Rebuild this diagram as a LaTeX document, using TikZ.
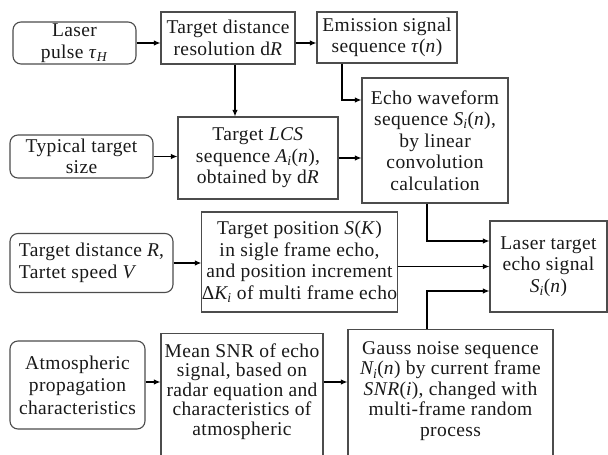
\documentclass[tikz,border=0pt]{standalone}
\usepackage{fontspec}
\setmainfont[LetterSpace=2]{Liberation Serif}
\usetikzlibrary{arrows.meta}
\tikzset{
  box/.style={draw=black!70, line width=1.1pt, inner sep=0pt, align=center, text=black!90,
    font=\fontsize{19.5}{21.5}\selectfont},
  rbox/.style={box, rounded corners=8pt},
  arr/.style={-{Latex[length=6.5pt,width=5.5pt]}, line width=1.1pt, black},
}
\begin{document}
\begin{tikzpicture}[x=1pt,y=-1pt]
\useasboundingbox (0,0) rectangle (608,455);
\clip (0,0) rectangle (608,455);
% left column (rounded)
\node[rbox, minimum width=123, minimum height=42] (laser) at (74.5,43) {Laser\\pulse \textit{τ}\textsubscript{\textit{H}}};
\node[rbox, minimum width=143, minimum height=43] (typ) at (81.5,156.5) {Typical target\\size};
\node[rbox, minimum width=163, minimum height=59, align=left] (tdist) at (91.5,263) {Target distance \textit{R},\\Tartet speed \textit{V}};
\node[rbox, minimum width=135, minimum height=88, font=\fontsize{19.5}{22.5}\selectfont] (atm) at (77.5,385) {Atmospheric\\propagation\\characteristics};
% middle
\node[box, minimum width=134, minimum height=52] (tdr) at (228,38) {Target distance\\resolution d\textit{R}};
\node[box, minimum width=160, minimum height=82] (lcs) at (258,158) {Target \textit{LCS}\\sequence \textit{A\textsubscript{i}}(\textit{n}),\\obtained by d\textit{R}};
\node[box, minimum width=195, minimum height=100] (tpos) at (299.5,262) {Target position \textit{S}(\textit{K})\\in sigle frame echo,\\and position increment\\Δ\textit{K\textsubscript{i}} of multi frame echo};
\node[box, anchor=north, font=\fontsize{19.5}{19.5}\selectfont] (snr) at (242,333)
  {\parbox[c][160pt][t]{162pt}{\centering\vspace*{10pt}Mean SNR of echo\\signal, based on\\radar equation and\\characteristics of\\atmospheric}};
% right
\node[box, minimum width=140, minimum height=51] (emis) at (387,37.5) {Emission signal\\sequence \textit{τ}(\textit{n})};
\node[box, minimum width=146, minimum height=125] (echo) at (435,140.5) {Echo waveform\\sequence \textit{S\textsubscript{i}}(\textit{n}),\\by linear\\convolution\\calculation};
\node[box, minimum width=117, minimum height=91] (lte) at (548.5,266.5) {Laser target\\echo signal\\\textit{S\textsubscript{i}}(\textit{n})};
\node[box, anchor=north, font=\fontsize{19.5}{20.5}\selectfont] (gauss) at (450.5,329)
  {\parbox[c][160pt][t]{205pt}{\centering\vspace*{12pt}Gauss noise sequence\\\textit{N\textsubscript{i}}(\textit{n}) by current frame\\\textit{SNR}(\textit{i}), changed with\\multi-frame random\\process}};
% corner coordinates
\coordinate (c1) at (235,0);
\coordinate (c2) at (342,100);
\coordinate (c3) at (427,241);
\coordinate (c4) at (427,291);
\coordinate (c5) at (0,382);
% connectors
\draw[arr] (laser) -- (laser -| tdr.west);
\draw[arr] (tdr.east |- laser) -- (emis.west |- laser);
\draw[arr] (tdr.south -| c1) -- (lcs.north -| c1);
\draw[arr] (emis.south -| c2) -- (c2) -- (c2 -| echo.west);
\draw[arr] (typ) -- (typ -| lcs.west);
\draw[arr] (lcs) -- (lcs -| echo.west);
\draw[arr] (echo.south -| c3) -- (c3) -- (c3 -| lte.west);
\draw[arr] (tdist) -- (tdist -| tpos.west);
\draw[arr] (tpos.east |- lte) -- (lte.west);
\draw[arr] (gauss.north -| c4) -- (c4) -- (c4 -| lte.west);
\draw[arr] (atm.east |- c5) -- (snr.west |- c5);
\draw[arr] (snr.east |- c5) -- (gauss.west |- c5);
\end{tikzpicture}
\end{document}
